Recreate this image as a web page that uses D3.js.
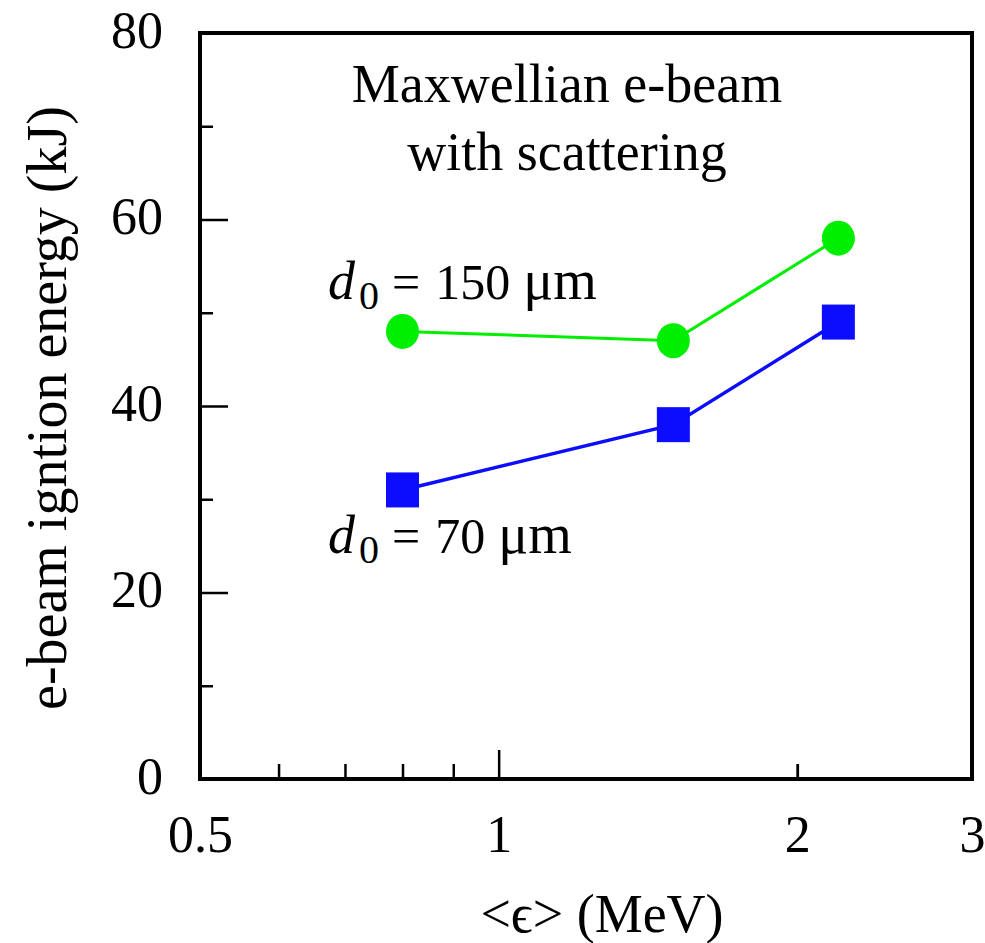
<!DOCTYPE html>
<html>
<head>
<meta charset="utf-8">
<script src="https://cdn.jsdelivr.net/npm/d3@7"></script>
</head>
<body style="margin:0;background:#fff">
<svg id="chart" width="985" height="943" font-family="Liberation Serif"></svg>
<script>
// ---- data ----
const energyMeV = [0.8, 1.5, 2.2];
const d150Values = [48, 47, 58];
const d70Values = [31, 38, 49];
const xMajorTicks = [0.5, 1, 2, 3];
const xMinorTicks = [0.6, 0.7, 0.8, 0.9];
const yMajorTicks = [0, 20, 40, 60, 80];
const yMinorTicks = [10, 30, 50, 70];
const xTickLabels = ["0.5", "1", "2", "3"];
const titleLines = ["Maxwellian e-beam", "with scattering"];
const seriesLabels = ["150", "70"];

const FONT = "Liberation Serif";
const svg = d3.select("#chart");
const L = 200, R = 972, T = 33, B = 779;

const x = d3.scaleLog().domain([0.5, 3]).range([L, R]);
const y = d3.scaleLinear().domain([0, 80]).range([B, T]);

// minor x ticks
const gxMinor = svg.append("g").attr("transform", `translate(0,${B})`)
  .call(d3.axisBottom(x).tickValues(xMinorTicks.concat([2])).tickSize(-15).tickFormat(""));
// major x ticks
const gx = svg.append("g").attr("transform", `translate(0,${B})`)
  .call(d3.axisBottom(x).tickValues(xMajorTicks).tickSize(-29).tickPadding(36)
    .tickFormat((d, i) => xTickLabels[i]));
gx.selectAll(".tick").filter(d => d === 2).select("line").attr("y2", -15);

// y axes
const gyMinor = svg.append("g").attr("transform", `translate(${L},0)`)
  .call(d3.axisLeft(y).tickValues(yMinorTicks).tickSize(-13).tickFormat(""));
const gy = svg.append("g").attr("transform", `translate(${L},0)`)
  .call(d3.axisLeft(y).tickValues(yMajorTicks).tickSize(-28).tickPadding(37).tickFormat(d3.format("d")));

[gx, gxMinor, gy, gyMinor].forEach(g => {
  g.attr("font-family", FONT).attr("font-size", 52);
  g.select(".domain").remove();
  g.selectAll(".tick line").attr("stroke", "#000").attr("stroke-width", 2.5);
  g.selectAll(".tick text").attr("font-family", FONT).attr("font-size", 52).attr("fill", "#000");
});
gy.selectAll(".tick text").attr("dy", "0.27em");

// frame
svg.append("rect").attr("x", L).attr("y", T).attr("width", R - L).attr("height", B - T)
  .attr("fill", "none").attr("stroke", "#000").attr("stroke-width", 4);

// series
const line = d3.line().x(d => x(d[0])).y(d => y(d[1]));
const green = "#00ee00", blue = "#0c0cff";
const s150 = energyMeV.map((e, i) => [e, d150Values[i]]);
const s70 = energyMeV.map((e, i) => [e, d70Values[i]]);

svg.append("path").datum(s150).attr("d", line).attr("fill", "none")
  .attr("stroke", green).attr("stroke-width", 3);
svg.append("path").datum(s70).attr("d", line).attr("fill", "none")
  .attr("stroke", blue).attr("stroke-width", 3.5);

svg.selectAll("ellipse.c150").data(s150).enter().append("ellipse")
  .attr("cx", d => x(d[0])).attr("cy", d => y(d[1]))
  .attr("rx", 16.5).attr("ry", 17.5).attr("fill", green);
svg.selectAll("rect.s70").data(s70).enter().append("rect")
  .attr("x", d => x(d[0]) - 16.5).attr("y", d => y(d[1]) - 17.5)
  .attr("width", 33).attr("height", 35).attr("fill", blue);

// title annotation
titleLines.forEach((t, i) => {
  svg.append("text").attr("x", 567).attr("y", 102 + i * 68)
    .attr("font-family", FONT).attr("text-anchor", "middle").attr("font-size", 54).text(t);
});

// d0 labels
function d0Label(xp, yp, value) {
  const t = svg.append("text").attr("x", xp).attr("y", yp)
    .attr("font-family", FONT).attr("font-size", 48);
  t.append("tspan").attr("font-style", "italic").attr("font-size", 54).text("d");
  t.append("tspan").attr("font-size", 40).attr("dx", 4).attr("dy", 10).text("0");
  t.append("tspan").attr("font-size", 50).attr("dx", 13).attr("dy", -10).text("=");
  t.append("tspan").attr("font-size", 50).attr("dx", 15).text(value);
  t.append("tspan").attr("font-size", 56).attr("dx", 13).text("\u03BCm");
}
d0Label(328, 299, seriesLabels[0]);
d0Label(328, 553, seriesLabels[1]);

// axis titles
svg.append("text").attr("x", 602).attr("y", 932).attr("text-anchor", "middle")
  .attr("font-family", FONT).attr("font-size", 54).text("<\u03F5> (MeV)");
svg.append("text").attr("transform", "translate(66,408) rotate(-90)")
  .attr("font-family", FONT).attr("text-anchor", "middle").attr("font-size", 56)
  .text("e-beam igntion energy (kJ)");
</script>
</body>
</html>
